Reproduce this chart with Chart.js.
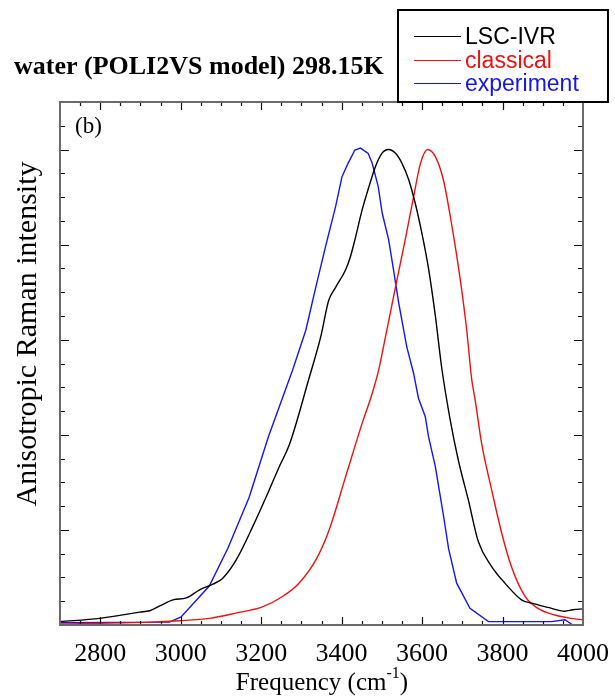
<!DOCTYPE html>
<html>
<head>
<meta charset="utf-8">
<script src="https://cdn.jsdelivr.net/npm/chart.js@4.4.1/dist/chart.umd.min.js"></script>
<style>
  body { margin: 0; background: #fff; }
  #wrap { width: 615px; height: 700px; }
</style>
</head>
<body>
<div id="wrap"><canvas id="ramanChart" width="615" height="700"></canvas></div>
<script>
// values (intensity normalised so every peak = 1)
const freqLSC = [2700, 2799, 2898, 2923, 2948, 2981, 3014, 3047, 3080, 3104, 3138, 3179, 3220, 3245, 3270, 3319, 3348, 3368, 3385, 3410, 3422, 3435, 3451, 3468, 3484, 3500, 3517, 3534, 3550, 3567, 3583, 3600, 3616, 3633, 3649, 3670, 3690, 3715, 3740, 3773, 3806, 3847, 3872, 3913, 3955, 3975, 4000];
const intLSC  = [0.007, 0.014, 0.027, 0.030, 0.040, 0.053, 0.057, 0.074, 0.086, 0.098, 0.137, 0.207, 0.284, 0.333, 0.379, 0.519, 0.606, 0.683, 0.710, 0.747, 0.775, 0.817, 0.873, 0.922, 0.964, 0.992, 1.000, 0.992, 0.971, 0.936, 0.887, 0.822, 0.750, 0.650, 0.540, 0.431, 0.347, 0.263, 0.175, 0.123, 0.088, 0.053, 0.046, 0.037, 0.029, 0.032, 0.034];

const freqClassical = [2700, 2923, 2997, 3071, 3137, 3203, 3253, 3294, 3336, 3369, 3410, 3451, 3476, 3492, 3509, 3534, 3558, 3579, 3596, 3614, 3633, 3653, 3674, 3695, 3711, 3723, 3732, 3748, 3773, 3798, 3822, 3856, 3888, 3930, 3971, 4000];
const intClassical  = [0.002, 0.006, 0.009, 0.014, 0.025, 0.038, 0.060, 0.088, 0.137, 0.200, 0.312, 0.424, 0.487, 0.536, 0.606, 0.711, 0.810, 0.901, 0.971, 1.000, 0.985, 0.936, 0.840, 0.726, 0.620, 0.519, 0.473, 0.382, 0.284, 0.193, 0.123, 0.060, 0.035, 0.021, 0.014, 0.011];

const freqExp = [2700, 2972, 3001, 3071, 3117, 3170, 3218, 3278, 3311, 3336, 3360, 3385, 3401, 3416, 3433, 3447, 3466, 3476, 3491, 3501, 3517, 3529, 3542, 3562, 3579, 3591, 3608, 3616, 3633, 3653, 3666, 3686, 3719, 3765, 3921, 3955, 3975, 4000];
const intExp  = [0.005, 0.006, 0.017, 0.082, 0.161, 0.268, 0.396, 0.536, 0.620, 0.711, 0.796, 0.880, 0.943, 0.971, 0.999, 1.003, 0.992, 0.971, 0.922, 0.866, 0.810, 0.747, 0.677, 0.585, 0.529, 0.477, 0.438, 0.396, 0.333, 0.231, 0.160, 0.088, 0.035, 0.007, 0.007, 0.011, 0.000, -0.005];

const seriesNames = ['LSC-IVR', 'classical', 'experiment'];
const seriesColors = ['#000000', '#ee1111', '#1515ee'];
const xTickLabels = [2800, 3000, 3200, 3400, 3600, 3800, 4000];

const serif = '"Liberation Serif", "Times New Roman", serif';
const sans = '"Liberation Sans", Arial, sans-serif';

function toPoints(xs, ys) {
  return xs.map((x, i) => ({ x: x, y: ys[i] }));
}

// frame, inward ticks, title, legend and axis titles
const framePlugin = {
  id: 'framePlugin',
  afterDatasetsDraw(chart) {
    const ctx = chart.ctx;
    const a = chart.chartArea;
    const xs = chart.scales.x;
    const ys = chart.scales.y;
    ctx.save();

    // ticks
    ctx.strokeStyle = '#111';
    ctx.lineWidth = 1.2;
    ctx.beginPath();
    for (let v = xs.min + 50; v < xs.max; v += 50) {
      const px = Math.round(xs.getPixelForValue(v)) + 0.5;
      const len = xTickLabels.includes(v) ? 8 : 4;
      ctx.moveTo(px, a.bottom); ctx.lineTo(px, a.bottom - len);
      ctx.moveTo(px, a.top); ctx.lineTo(px, a.top + len);
    }
    for (let i = 1; i * 0.05 < ys.max - 0.001; i++) {
      const py = Math.round(ys.getPixelForValue(i * 0.05)) + 0.5;
      const len = i % 4 === 0 ? 9 : 5;
      ctx.moveTo(a.left, py); ctx.lineTo(a.left + len, py);
      ctx.moveTo(a.right, py); ctx.lineTo(a.right - len, py);
    }
    ctx.stroke();

    // frame
    ctx.strokeStyle = '#6a6a6a';
    ctx.lineWidth = 2;
    ctx.strokeRect(a.left, a.top, a.right - a.left, a.bottom - a.top);

    // panel label
    ctx.fillStyle = '#000';
    ctx.font = '23px ' + serif;
    ctx.textBaseline = 'alphabetic';
    ctx.textAlign = 'left';
    ctx.fillText('(b)', 75, 133);

    // title
    ctx.font = 'bold 26px ' + serif;
    ctx.fillText('water (POLI2VS model) 298.15K', 14, 74);

    // legend
    ctx.fillStyle = '#fff';
    ctx.fillRect(398, 10, 210, 92);
    ctx.strokeStyle = '#000';
    ctx.lineWidth = 2;
    ctx.strokeRect(398, 10, 210, 92);
    ctx.font = '23px ' + sans;
    const rows = [36, 60, 83];
    chart.data.datasets.forEach((ds, i) => {
      ctx.strokeStyle = ds.borderColor;
      ctx.lineWidth = 1.2;
      ctx.beginPath();
      ctx.moveTo(414, rows[i] + 0.5);
      ctx.lineTo(461, rows[i] + 0.5);
      ctx.stroke();
      ctx.fillStyle = ds.borderColor;
      ctx.fillText(ds.label, 465, rows[i] + 8);
    });

    // y axis title
    ctx.fillStyle = '#000';
    ctx.save();
    ctx.translate(36, 334);
    ctx.rotate(-Math.PI / 2);
    ctx.textAlign = 'center';
    ctx.font = '30px ' + serif;
    ctx.fillText('Anisotropic Raman intensity', 0, 0);
    ctx.restore();

    // x axis title with superscript
    ctx.font = '25px ' + serif;
    const p1 = 'Frequency (cm';
    const p2 = '-1';
    const p3 = ')';
    const w1 = ctx.measureText(p1).width;
    const w3 = ctx.measureText(p3).width;
    ctx.font = '16px ' + serif;
    const w2 = ctx.measureText(p2).width;
    const startX = 322 - (w1 + w2 + w3) / 2;
    ctx.font = '25px ' + serif;
    ctx.fillText(p1, startX, 690);
    ctx.font = '16px ' + serif;
    ctx.fillText(p2, startX + w1, 678);
    ctx.font = '25px ' + serif;
    ctx.fillText(p3, startX + w1 + w2, 690);

    ctx.restore();
  }
};

const ctx = document.getElementById('ramanChart').getContext('2d');
new Chart(ctx, {
  type: 'line',
  data: {
    datasets: [
      { label: seriesNames[0], data: toPoints(freqLSC, intLSC), borderColor: seriesColors[0], cubicInterpolationMode: 'monotone' },
      { label: seriesNames[1], data: toPoints(freqClassical, intClassical), borderColor: seriesColors[1], cubicInterpolationMode: 'monotone' },
      { label: seriesNames[2], data: toPoints(freqExp, intExp), borderColor: seriesColors[2], tension: 0 }
    ]
  },
  options: {
    responsive: false,
    animation: false,
    devicePixelRatio: 1,
    layout: { padding: { top: 102, right: 30, left: 0, bottom: 0 } },
    elements: {
      point: { radius: 0 },
      line: { borderWidth: 1.4, fill: false }
    },
    plugins: {
      legend: { display: false },
      tooltip: { enabled: false }
    },
    scales: {
      x: {
        type: 'linear',
        min: 2700,
        max: 4000,
        grid: { display: false },
        border: { display: false },
        afterBuildTicks: (scale) => { scale.ticks = xTickLabels.map(v => ({ value: v })); },
        afterFit: (scale) => { scale.height = 75; },
        ticks: {
          autoSkip: false,
          maxRotation: 0,
          padding: 6,
          color: '#000',
          font: { family: serif, size: 26 },
          callback: (v) => String(v)
        }
      },
      y: {
        min: 0,
        max: 1.1,
        grid: { display: false },
        border: { display: false },
        afterFit: (scale) => { scale.width = 60; },
        ticks: { display: false }
      }
    }
  },
  plugins: [framePlugin]
});
</script>
</body>
</html>
